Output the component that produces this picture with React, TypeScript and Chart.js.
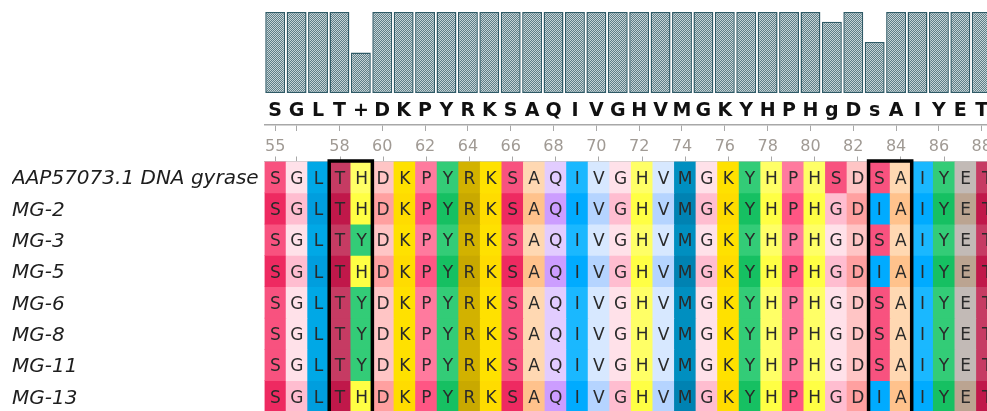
import { useEffect, useRef } from 'react';
import { Chart, registerables } from 'chart.js';

Chart.register(...registerables);

// ---- data ----
const positions = [55, 56, 57, 58, 59, 60, 61, 62, 63, 64, 65, 66, 67, 68, 69, 70, 71, 72, 73, 74, 75, 76, 77, 78, 79, 80, 81, 82, 83, 84, 85, 86, 87, 88];
const tickMarkPositions = [55, 56, 58, 60, 62, 64, 66, 68, 70, 72, 74, 76, 78, 80, 82, 84, 86, 88];
const tickLabelPositions = [55, 58, 60, 62, 64, 66, 68, 70, 72, 74, 76, 78, 80, 82, 84, 86, 88];
const consensus = ['S', 'G', 'L', 'T', '+', 'D', 'K', 'P', 'Y', 'R', 'K', 'S', 'A', 'Q', 'I', 'V', 'G', 'H', 'V', 'M', 'G', 'K', 'Y', 'H', 'P', 'H', 'g', 'D', 's', 'A', 'I', 'Y', 'E', 'T'];
const conservation = [1, 1, 1, 1, 0.5, 1, 1, 1, 1, 1, 1, 1, 1, 1, 1, 1, 1, 1, 1, 1, 1, 1, 1, 1, 1, 1, 0.88, 1, 0.63, 1, 1, 1, 1, 1];
const seqNames = ['AAP57073.1 DNA gyrase', 'MG-2', 'MG-3', 'MG-5', 'MG-6', 'MG-8', 'MG-11', 'MG-13'];
const sequences = [
  'SGLTHDKPYRKSAQIVGHVMGKYHPHSDSAIYET',
  'SGLTHDKPYRKSAQIVGHVMGKYHPHGDIAIYET',
  'SGLTYDKPYRKSAQIVGHVMGKYHPHGDSAIYET',
  'SGLTHDKPYRKSAQIVGHVMGKYHPHGDIAIYET',
  'SGLTYDKPYRKSAQIVGHVMGKYHPHGDSAIYET',
  'SGLTYDKPYRKSAQIVGHVMGKYHPHGDSAIYET',
  'SGLTYDKPYRKSAQIVGHVMGKYHPHGDSAIYET',
  'SGLTHDKPYRKSAQIVGHVMGKYHPHGDIAIYET',
];
const darkRows = ['MG-2', 'MG-5', 'MG-13'];
const boxedColumns = [[58, 59], [83, 84]];

// residue colours: [normal, darker]
const residueColors: Record<string, [string, string]> = {
  S: ['#f8527f', '#ee2a61'],
  G: ['#ffe1e9', '#ffbdd0'],
  L: ['#00a8e6', '#009ede'],
  T: ['#c63b63', '#c0184a'],
  H: ['#ffff66', '#ffff44'],
  D: ['#ffc5c5', '#ffa0a0'],
  K: ['#ffe100', '#ffdc00'],
  P: ['#ff7a9e', '#ff5684'],
  Y: ['#33cc77', '#16c062'],
  R: ['#d2b200', '#c9a900'],
  A: ['#ffd8b2', '#ffc28c'],
  Q: ['#e2ccff', '#cc9dff'],
  I: ['#1ab8ff', '#00abff'],
  V: ['#d7e8ff', '#b5d4ff'],
  M: ['#008fc0', '#0082b2'],
  E: ['#c2bab6', '#bba491'],
};

function makePattern(): CanvasPattern | string {
  const c = document.createElement('canvas');
  c.width = 2;
  c.height = 2;
  const g = c.getContext('2d');
  if (!g) return '#90a7ad';
  g.fillStyle = '#c6d4d7';
  g.fillRect(0, 0, 2, 2);
  g.fillStyle = '#5e7e87';
  g.fillRect(1, 0, 1, 1);
  g.fillRect(0, 1, 1, 1);
  return g.createPattern(c, 'repeat') || '#90a7ad';
}

const lettersPlugin = {
  id: 'cellLetters',
  afterDatasetsDraw(chart: any) {
    const { ctx } = chart;
    ctx.save();
    ctx.font = '17px "DejaVu Sans"';
    ctx.fillStyle = '#2a2a2a';
    ctx.textAlign = 'center';
    ctx.textBaseline = 'middle';
    sequences.forEach((seq, r) => {
      const meta = chart.getDatasetMeta(r);
      meta.data.forEach((el: any, c: number) => {
        const p = el.getProps(['x', 'y', 'base'], true);
        ctx.fillText(seq[c], p.x, (p.y + p.base) / 2 + 2);
      });
    });
    ctx.restore();
  },
};

const boxesPlugin = {
  id: 'selectionBoxes',
  afterDatasetsDraw(chart: any) {
    const { ctx, chartArea } = chart;
    const x = chart.scales.x;
    const w = x.getPixelForValue(1) - x.getPixelForValue(0);
    ctx.save();
    ctx.strokeStyle = '#000';
    ctx.lineWidth = 3.5;
    boxedColumns.forEach(([a, b]) => {
      const left = x.getPixelForValue(positions.indexOf(a)) - w / 2;
      const right = x.getPixelForValue(positions.indexOf(b)) + w / 2;
      ctx.strokeRect(left, chartArea.top - 0.5, right - left, chartArea.bottom - chartArea.top + 30);
    });
    ctx.restore();
  },
};

const tickColor = (ctx: any) =>
  tickMarkPositions.includes(positions[ctx.index]) ? '#a8a8a8' : 'rgba(0,0,0,0)';

export default function App() {
  const topRef = useRef<HTMLCanvasElement>(null);
  const botRef = useRef<HTMLCanvasElement>(null);

  useEffect(() => {
    const labels = positions.map(String);
    const pattern = makePattern();

    const top = new Chart(topRef.current as HTMLCanvasElement, {
      type: 'bar',
      data: {
        labels,
        datasets: [
          {
            data: conservation,
            backgroundColor: pattern as any,
            borderColor: '#2f5a66',
            borderWidth: 1.5,
            borderSkipped: false,
            barPercentage: 0.93,
            categoryPercentage: 1,
          },
        ],
      },
      options: {
        responsive: false,
        animation: false,
        devicePixelRatio: 1,
        layout: { padding: { top: 12, left: 264.5, right: 0, bottom: 0 } },
        plugins: { legend: { display: false }, tooltip: { enabled: false } },
        scales: {
          x: {
            type: 'category',
            labels: consensus,
            position: 'bottom',
            offset: true,
            weight: 0,
            grid: { display: false, drawTicks: false },
            border: { display: false },
            ticks: {
              autoSkip: false,
              maxRotation: 0,
              padding: 7,
              color: '#111',
              font: { family: 'DejaVu Sans', size: 19, weight: 'bold' },
            },
            afterFit: (s: any) => {
              s.height = 32;
            },
          },
          xr: {
            type: 'category',
            labels,
            position: 'bottom',
            offset: true,
            weight: 1,
            grid: { offset: false, drawOnChartArea: false, drawTicks: true, tickLength: 6, color: tickColor, lineWidth: 1 },
            border: { display: true, color: '#a8a8a8', width: 1.5 },
            ticks: {
              autoSkip: false,
              maxRotation: 0,
              padding: 6,
              color: '#a09a94',
              font: { family: 'DejaVu Sans', size: 16 },
              callback: (_v: any, i: number) => (tickLabelPositions.includes(positions[i]) ? labels[i] : ''),
            },
            afterFit: (s: any) => {
              s.height = 35;
            },
          },
          y: { display: false, min: 0, max: 1 },
        },
      } as any,
    });

    const bot = new Chart(botRef.current as HTMLCanvasElement, {
      type: 'bar',
      data: {
        labels,
        datasets: sequences.map((seq, r) => ({
          label: seqNames[r],
          data: labels.map(() => [r, r + 1]),
          backgroundColor: seq.split('').map((ch) => residueColors[ch][darkRows.includes(seqNames[r]) ? 1 : 0]),
          borderWidth: 0,
          grouped: false,
          barPercentage: 1,
          categoryPercentage: 1,
        })) as any,
      },
      options: {
        responsive: false,
        animation: false,
        devicePixelRatio: 1,
        layout: { padding: { left: 12, top: 0, right: 0, bottom: 0 } },
        plugins: { legend: { display: false }, tooltip: { enabled: false } },
        scales: {
          x: {
            type: 'category',
            position: 'top',
            offset: true,
            grid: { offset: false, drawOnChartArea: false, drawTicks: true, tickLength: 5, color: tickColor, lineWidth: 1 },
            border: { display: true, color: '#c4c4c4', width: 1 },
            ticks: { display: false },
            afterFit: (s: any) => {
              s.height = 11.5;
              s.paddingLeft = 0;
              s.paddingRight = 0;
            },
          },
          y: {
            type: 'linear',
            min: 0,
            max: 8,
            reverse: true,
            grid: { display: false },
            border: { display: false },
            afterBuildTicks: (s: any) => {
              s.ticks = seqNames.map((_n, i) => ({ value: i + 0.5 }));
            },
            ticks: {
              autoSkip: false,
              crossAlign: 'far',
              labelOffset: 2,
              color: '#1e1e1e',
              font: { family: 'DejaVu Sans', size: 20, style: 'italic' },
              callback: (v: any) => seqNames[Math.floor(Number(v))],
            },
            afterFit: (s: any) => {
              s.width = 252.5;
              s.paddingTop = 0;
              s.paddingBottom = 0;
            },
          },
        },
      } as any,
      plugins: [lettersPlugin, boxesPlugin],
    });

    return () => {
      top.destroy();
      bot.destroy();
    };
  }, []);

  return (
    <div style={{ position: 'absolute', left: 0, top: 0, width: 987, height: 411, overflow: 'hidden', background: '#fff' }}>
      <canvas ref={topRef} width={998} height={160} style={{ position: 'absolute', left: 0, top: 0 }} />
      <canvas ref={botRef} width={998} height={262} style={{ position: 'absolute', left: 0, top: 150 }} />
    </div>
  );
}
